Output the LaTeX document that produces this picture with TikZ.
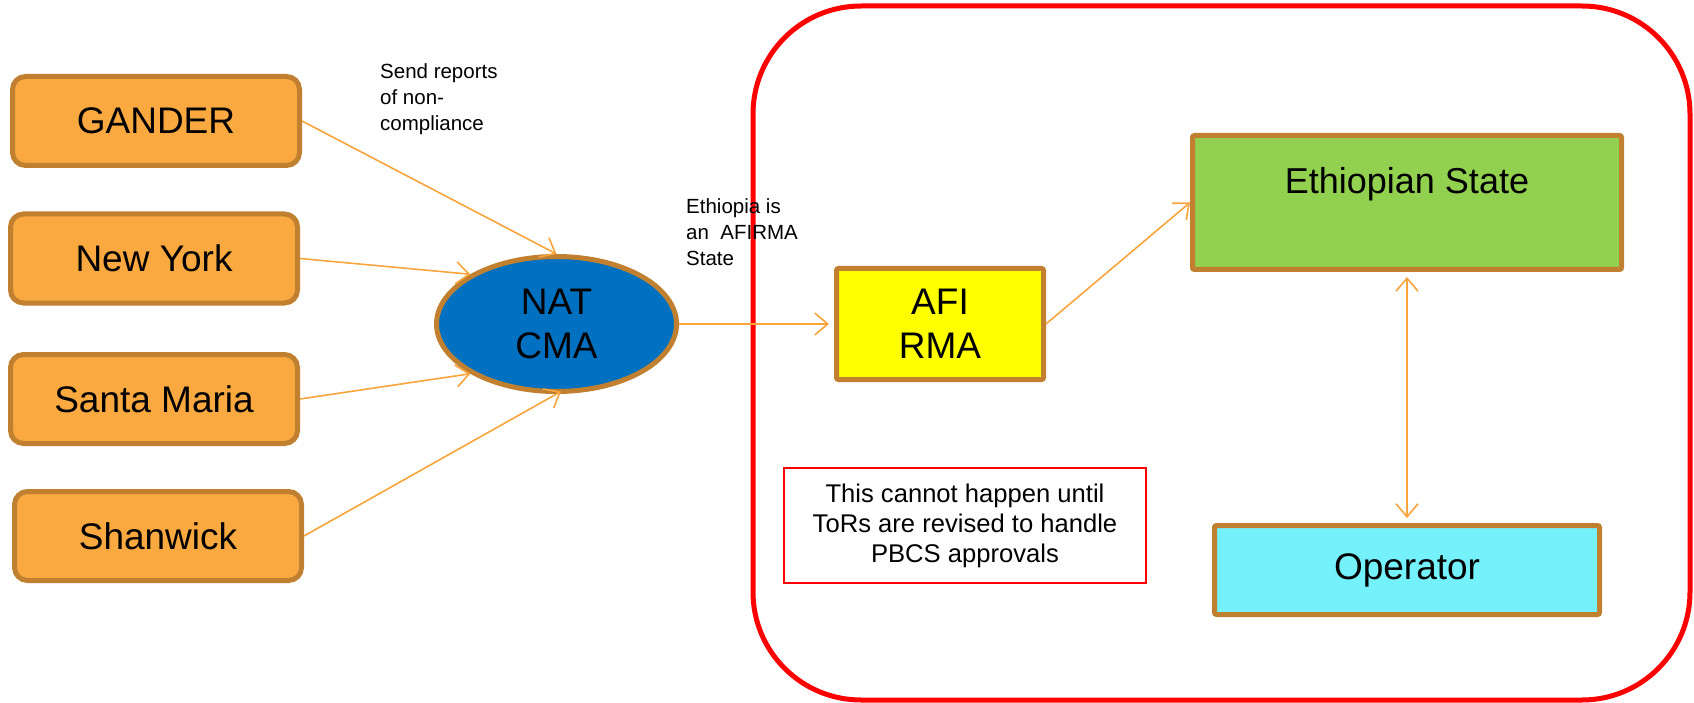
\documentclass[tikz,border=0pt]{standalone}
\usepackage{fontspec}
\setmainfont{Liberation Sans}
\usetikzlibrary{arrows.meta,shapes.geometric}

\definecolor{boxorange}{HTML}{FAA940}
\definecolor{boxedge}{HTML}{C0802F}
\definecolor{linkorange}{HTML}{F9A43C}
\definecolor{cmablue}{HTML}{0070C0}
\definecolor{rmayellow}{HTML}{FFFF00}
\definecolor{stategreen}{HTML}{92D050}
\definecolor{opcyan}{HTML}{75F1FC}
\definecolor{alertred}{HTML}{FF0000}

\tikzset{
  bigfont/.style={font=\fontsize{37}{44.5}\selectfont},
  centrebox/.style={draw=boxedge, line width=5pt, fill=boxorange, rounded corners=13pt,
    minimum width=287pt, minimum height=89pt, inner sep=0pt, bigfont},
  plainbox/.style={draw=boxedge, line width=5pt, rounded corners=2pt, inner sep=0pt, bigfont},
  link/.style={draw=linkorange, line width=1.6pt,
    -{Straight Barb[length=13pt,width=22pt,line width=1.6pt]}},
  twolink/.style={draw=linkorange, line width=1.6pt,
    {Straight Barb[length=13pt,width=22pt,line width=1.6pt]}-{Straight Barb[length=13pt,width=22pt,line width=1.6pt]}},
  note/.style={font=\fontsize{20.5}{26}\selectfont, align=left, inner sep=0pt, anchor=north west},
}

\begin{document}
\begin{tikzpicture}[x=1pt, y=-1pt]
\useasboundingbox (0,0) rectangle (1694,703);

% region boundary
\draw[alertred, line width=5pt, rounded corners=108pt] (753,6) rectangle (1690,700);

% control areas
\node[centrebox] (gander) at (156,121)   {GANDER};
\node[centrebox] (newyork) at (154,258.5) {New York};
\node[centrebox] (santamaria) at (154,399) {Santa Maria};
\node[centrebox] (shanwick) at (158,536)  {Shanwick};

% monitoring agencies
\node[ellipse, draw=boxedge, line width=5pt, fill=cmablue, minimum width=240pt,
      minimum height=135pt, inner sep=0pt, bigfont, align=center] (natcma) at (556.5,324) {NAT\\CMA};
\node[plainbox, fill=rmayellow, minimum width=207pt, minimum height=111pt, align=center]
      (afirma) at (940,324) {AFI\\RMA};

% state and operator
\node[plainbox, fill=stategreen, minimum width=429pt, minimum height=134pt] (ethstate) at (1407,202.5) {};
\node[anchor=base, inner sep=0pt, font=\fontsize{36}{43}\selectfont] (ethlabel) at (1407,194) {Ethiopian State};
\node[plainbox, fill=opcyan, minimum width=385pt, minimum height=89pt] (operator) at (1407,570) {Operator};

% caveat
\node[draw=alertred, line width=2pt, minimum width=362pt, minimum height=115pt, inner sep=0pt,
      align=center, font=\fontsize{25.6}{30}\selectfont] (caveat) at (965,525.5)
      {This cannot happen until\\ToRs are revised to handle\\PBCS approvals};

% annotations
\node[note] (reportnote) at (380,63) {Send reports\\of non-\\compliance};
\node[note] (afinote) at (686,198) {Ethiopia is\\an\ \ AFIRMA\\State};

% reporting links
\draw[link] (gander.east) -- (natcma.north);
\draw[link] (newyork.east) -- (natcma.150);
\draw[link] (santamaria.east) -- (natcma.210);
\draw[link, shorten >=-5pt] (shanwick.east) -- (natcma.south);
\draw[link, shorten >=5pt] (natcma.east) -- (afirma.west);
\draw[link] (afirma.east) -- (ethstate.west);
\draw[twolink, shorten >=5pt, shorten <=5pt] (ethstate.south) -- (operator.north);
\end{tikzpicture}
\end{document}
